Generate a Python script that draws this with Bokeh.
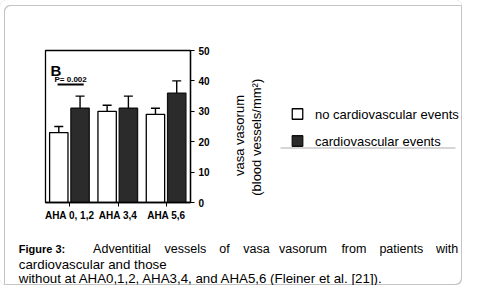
import math
from bokeh.plotting import figure
from bokeh.layouts import row, column
from bokeh.models import (ColumnDataSource, FactorRange, Range1d, Whisker, TeeHead, Label,
                          FixedTicker)
from bokeh.transform import dodge
from bokeh.embed import file_html
from bokeh.resources import INLINE
from bokeh.core.properties import value

# ---- data ----
groups = ["AHA 0, 1,2", "AHA 3,4", "AHA 5,6"]
no_events = [23, 30, 29]
no_events_err = [2, 2, 2]
events = [31, 31, 36]
events_err = [4, 4, 4]
y_ticks = [0, 10, 20, 30, 40, 50]
legend_labels = ["no cardiovascular events", "cardiovascular events"]
p_value_text = "P= 0.002"
panel_letter = "B"
y_label_1 = "vasa vasorum"
y_label_2 = "(blood  vessels/mm\u00b2)"
caption_line1 = ["Figure", "3:", "Adventitial", "vessels", "of", "vasa",
                 "vasorum", "from", "patients", "with"]
caption_line2 = "cardiovascular and those"
caption_line3 = "without at AHA0,1,2, AHA3,4, and AHA5,6 (Fleiner et al. [21])."

FONT = "Liberation Sans"
BORDER = "#c4c4c4"
WHITE_FILL = "white"
DARK_FILL = "#2b2b2b"

TOP_H = 42          # height of the top strip
ROW_H = 186         # height of the chart row (frame 50..202 on the page)
CAP_H = 57          # caption height
BT, BB = 8, 26      # chart borders above / below the frame


def transparent(f):
    f.background_fill_alpha = 0
    f.border_fill_alpha = 0


def blank(w, h, yr=None, bt=0, bb=0):
    f = figure(width=w, height=h, x_range=Range1d(0, w),
               y_range=yr if yr is not None else Range1d(0, h),
               x_axis_type=None, y_axis_type=None, output_backend="svg",
               toolbar_location=None, min_border_left=0, min_border_right=0,
               min_border_top=bt, min_border_bottom=bb)
    f.grid.visible = False
    f.outline_line_color = None
    transparent(f)
    return f


# ---------------- chart ----------------
src = ColumnDataSource(dict(
    g=groups,
    no=no_events,
    no_lo=[v - e for v, e in zip(no_events, no_events_err)],
    no_hi=[v + e for v, e in zip(no_events, no_events_err)],
    cv=events,
    cv_lo=[v - e for v, e in zip(events, events_err)],
    cv_hi=[v + e for v, e in zip(events, events_err)],
))

p = figure(width=180, height=ROW_H, x_range=FactorRange(*groups, range_padding=0),
           y_range=Range1d(0, 50), output_backend="svg", toolbar_location=None,
           y_axis_location="right",
           min_border_left=3, min_border_right=32,
           min_border_top=BT, min_border_bottom=BB)
p.grid.visible = False
p.outline_line_color = "black"
p.outline_line_width = 1.3
transparent(p)

OFF_W = -0.225
OFF_D = 0.215
BW = 0.38

p.vbar(x=dodge("g", OFF_W, range=p.x_range), top="no", width=BW, source=src,
       fill_color=WHITE_FILL, line_color="black", line_width=1.3)
p.vbar(x=dodge("g", OFF_D, range=p.x_range), top="cv", width=BW, source=src,
       fill_color=DARK_FILL, line_color="#111111", line_width=1.3)

for off, lo, hi in [(OFF_W, "no_lo", "no_hi"), (OFF_D, "cv_lo", "cv_hi")]:
    w = Whisker(base=dodge("g", off, range=p.x_range), lower=lo, upper=hi, source=src,
                line_color="black", line_width=1.4,
                upper_head=TeeHead(size=9, line_color="black", line_width=1.4),
                lower_head=TeeHead(size=9, line_color="black", line_width=1.4))
    p.add_layout(w)

xa = p.xaxis[0]
xa.axis_line_color = "black"
xa.axis_line_width = 1.3
xa.major_tick_in = 0
xa.major_tick_out = 4
xa.major_tick_line_color = "black"
xa.minor_tick_line_color = None
xa.major_label_text_font = FONT
xa.major_label_text_font_size = "10px"
xa.major_label_text_font_style = "bold"
xa.major_label_text_color = "black"
xa.major_label_standoff = 3

ya = p.yaxis[0]
ya.ticker = FixedTicker(ticks=y_ticks)
ya.axis_line_color = "black"
ya.axis_line_width = 1.3
ya.major_tick_in = 0
ya.major_tick_out = 4
ya.major_tick_line_color = "black"
ya.minor_tick_line_color = None
ya.major_label_text_font = FONT
ya.major_label_text_font_size = "10px"
ya.major_label_text_font_style = "bold"
ya.major_label_text_color = "black"
ya.major_label_standoff = 4

sig = ColumnDataSource(dict(g=[groups[0]], y=[38.8], ty=[40.4], t=[p_value_text]))
p.segment(x0=dodge("g", -0.25, range=p.x_range), x1=dodge("g", 0.29, range=p.x_range),
          y0="y", y1="y", source=sig, line_color="black", line_width=2)
p.text(x=dodge("g", 0.02, range=p.x_range), y="ty", text="t", source=sig,
       text_font=value(FONT), text_font_size="8px", text_font_style="bold",
       text_align="center", text_baseline="alphabetic", text_color="black")

p.add_layout(Label(x=5, y=132, x_units="screen", y_units="screen", text=panel_letter,
                   text_font=FONT, text_font_size="15px", text_font_style="bold",
                   text_color="black", text_baseline="alphabetic"))

# ---------------- side panel: axis title + legend ----------------
# frames in a row share the chart's borders; data y = 228 - page_y
SW = 240
side = blank(SW, ROW_H, yr=Range1d(BB, ROW_H - BT), bt=BT, bb=BB)
side.add_layout(Label(x=16.5, y=93, text=y_label_1, angle=math.pi / 2,
                      text_align="center", text_baseline="middle",
                      text_font=FONT, text_font_size="13px", text_color="black"))
side.add_layout(Label(x=33.5, y=93, text=y_label_2, angle=math.pi / 2,
                      text_align="center", text_baseline="middle",
                      text_font=FONT, text_font_size="13px", text_color="black"))
side.rect(x=[75, 75], y=[114.5, 87.5], width=10.5, height=10.5,
          fill_color=[WHITE_FILL, DARK_FILL], line_color=["black", "#111111"],
          line_width=1.3)
for lbl, yy in zip(legend_labels, [114, 87]):
    side.add_layout(Label(x=92.5, y=yy, text=lbl, text_baseline="middle",
                          text_font=FONT, text_font_size="13px", text_color="black"))
side.segment(x0=[58], x1=[233], y0=[80.5], y1=[80.5], line_color="#c8c8c8", line_width=1.5)

left = blank(42, ROW_H, yr=Range1d(BB, ROW_H - BT), bt=BT, bb=BB)
top = blank(462, TOP_H)

# ---------------- caption ----------------
# data coordinates: x = page_x, y = 285 - page_y
cap = blank(462, CAP_H)
x_words = [18.3, 55, 92.6, 164, 218.7, 242.7, 278.5, 340.9, 378.9, 435.5]
for i, (wd, xp) in enumerate(zip(caption_line1, x_words)):
    bold = i < 2
    cap.add_layout(Label(x=xp, y=36.5, text=wd, text_font=FONT,
                         text_font_size="11px" if bold else "12.5px",
                         text_font_style="bold" if bold else "normal",
                         text_color="black", text_baseline="alphabetic"))
cap.add_layout(Label(x=18.3, y=21.5, text=caption_line2, text_font=FONT,
                     text_font_size="13.3px", text_color="black", text_baseline="alphabetic"))
cap.add_layout(Label(x=18.3, y=7, text=caption_line3, text_font=FONT,
                     text_font_size="13.3px", text_color="black", text_baseline="alphabetic"))

# thin grey frame round the whole figure (painted under the transparent plots)
frame_shadow = ("inset 4px 5px 0 0 white, inset 5px 6px 0 0 " + BORDER +
                ", inset -1px -1px 0 0 " + BORDER)
layout = column(top, row(left, p, side), cap,
                styles={"box-shadow": frame_shadow, "background-color": "white",
                        "border-radius": "6px"})
open("out.html", "w").write(file_html(layout, INLINE))
